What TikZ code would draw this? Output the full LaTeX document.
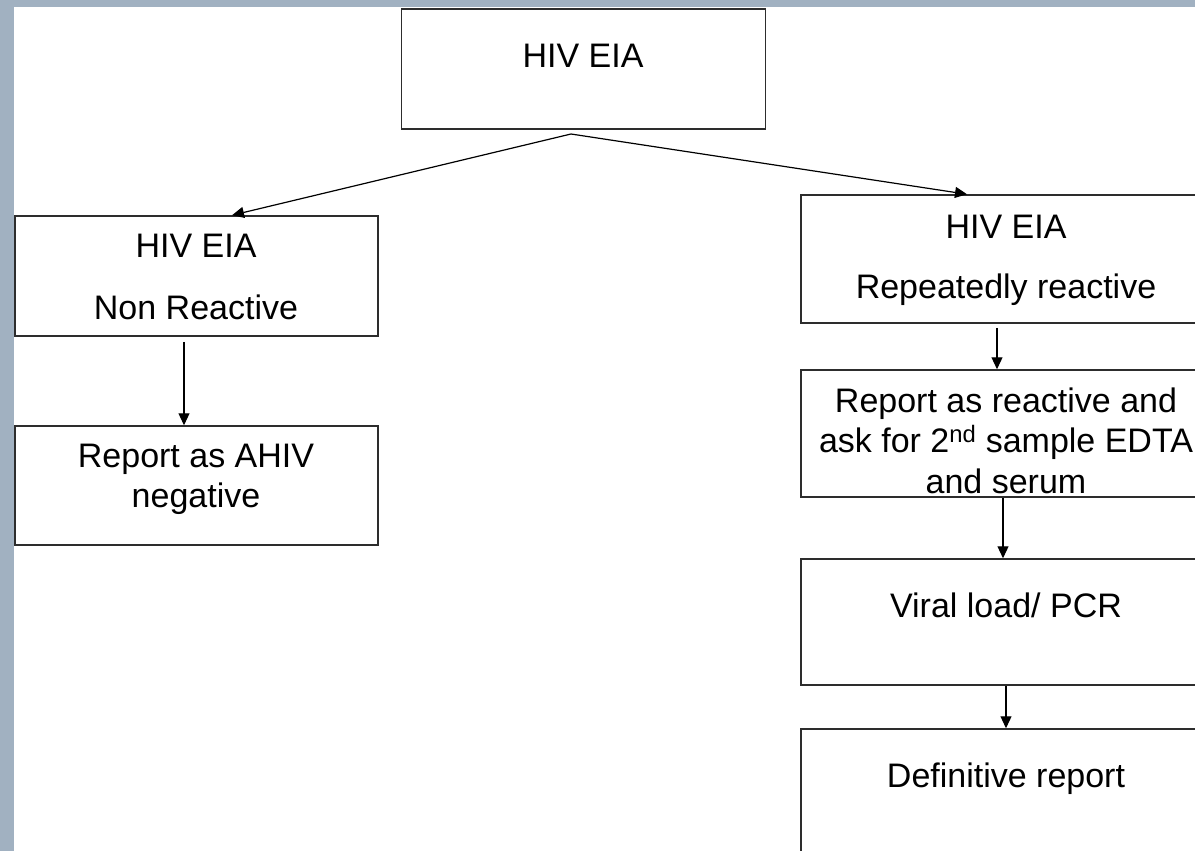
\documentclass[tikz,border=0pt]{standalone}
\usepackage{fontspec}
\setmainfont{Liberation Sans}
\usetikzlibrary{arrows.meta}
\definecolor{band}{RGB}{161,177,193}
\definecolor{edge}{RGB}{45,45,45}
\tikzset{
  box/.style={draw=edge, line width=1.5pt, fill=white, rectangle, inner sep=0pt},
  txt/.style={anchor=base, inner sep=0pt, font=\fontsize{34}{40}\selectfont},
  conn/.style={draw=black, line width=1.2pt, -{Triangle[length=12pt,width=11pt]}}
}
\begin{document}
\begin{tikzpicture}[x=1pt,y=-1pt]
\useasboundingbox (0,0) rectangle (1195,851);
\fill[band] (0,0) rectangle (1195,851);
\fill[white] (14,7) rectangle (1195,851);
% boxes
\node[box, minimum width=364pt, minimum height=120pt] (top) at (583.5,69) {};
\node[box, minimum width=363pt, minimum height=120pt] (nr) at (196.5,276) {};
\node[box, minimum width=363pt, minimum height=119pt] (neg) at (196.5,485.5) {};
\node[box, minimum width=420pt, minimum height=128pt] (rr) at (1011,259) {};
\node[box, minimum width=420pt, minimum height=127pt] (rep) at (1011,433.5) {};
\node[box, minimum width=420pt, minimum height=126pt] (vl) at (1011,622) {};
\node[box, minimum width=420pt, minimum height=160pt] (def) at (1011,809) {};
% texts
\node[txt] (t1) at (583,68) {HIV EIA};
\node[txt] (t2) at (196,257) {HIV EIA};
\node[txt] (t3) at (196,319) {Non Reactive};
\node[txt] (t4) at (196,467) {Report as AHIV};
\node[txt] (t5) at (196,507) {negative};
\node[txt] (t6) at (1006,238) {HIV EIA};
\node[txt] (t7) at (1006,298) {Repeatedly reactive};
\node[txt] (t8) at (1006,412) {Report as reactive and};
\node[txt] (t9) at (1006,452) {ask for 2\textsuperscript{nd} sample EDTA};
\node[txt] (t10) at (1006,493) {and serum};
\node[txt] (t11) at (1006,617) {Viral load/ PCR};
\node[txt] (t12) at (1006,787) {Definitive report};
% connectors
\coordinate (split) at (571,134);
\draw[conn] (split) -- (nr.north -| 232,0);
\draw[conn] (split) -- (rr.north -| 967,0);
\draw[conn] ([yshift=-5pt]nr.south -| 184,0) -- (neg.north -| 184,0);
\draw[conn] ([yshift=-4pt]rr.south -| 997,0) -- (rep.north -| 997,0);
\draw[conn] (rep.south -| 1003,0) -- (vl.north -| 1003,0);
\draw[conn] (vl.south -| 1006,0) -- (def.north -| 1006,0);
\end{tikzpicture}
\end{document}
